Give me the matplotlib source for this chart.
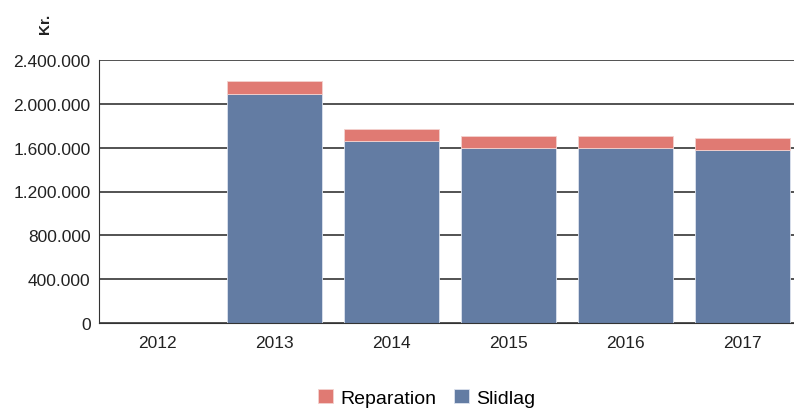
import matplotlib.pyplot as plt
import numpy as np

plt.rcParams['font.family'] = ['Liberation Sans', 'DejaVu Sans']

years = ["2012", "2013", "2014", "2015", "2016", "2017"]
slidlag = [0, 2090000, 1664000, 1597000, 1597000, 1582000]
reparation = [0, 120000, 104000, 110000, 110000, 107000]
yticks = [0, 400000, 800000, 1200000, 1600000, 2000000, 2400000]
ytick_labels = ["0", "400.000", "800.000", "1.200.000", "1.600.000", "2.000.000", "2.400.000"]

blue = "#637ca3"
red = "#e07a73"

fig = plt.figure(figsize=(7.94, 4.10), dpi=100)
ax = fig.add_axes([99 / 794, 1 - 324 / 410, 695 / 794, 263 / 410])

x = np.arange(len(years))
ax.bar(x, slidlag, width=0.82, color=blue, edgecolor="#dde3ee", linewidth=0.6, zorder=3, label="Slidlag")
ax.bar(x, reparation, width=0.82, bottom=slidlag, color=red, edgecolor="#f3d2cf", linewidth=0.6, zorder=3, label="Reparation")

ax.set_xlim(-0.5, 5.44)
ax.set_ylim(0, 2400000)
ax.set_yticks(yticks)
ax.set_yticklabels(ytick_labels, fontsize=12.5, color="#222222")
ax.set_xticks(x)
ax.set_xticklabels(years, fontsize=12.5, color="#222222")
ax.tick_params(axis="y", length=0, pad=6)
ax.tick_params(axis="x", length=0, pad=9)
ax.yaxis.grid(True, color="#444444", linewidth=1.3, zorder=1)

for s in ["top", "right"]:
    ax.spines[s].set_visible(False)
ax.spines["left"].set_color("#333333")
ax.spines["bottom"].set_color("#333333")
ax.spines["left"].set_zorder(4)
ax.spines["bottom"].set_zorder(4)

fig.text(45 / 794, 1 - 24 / 410, "Kr.", rotation=90, fontsize=11, fontweight="bold",
         ha="center", va="center", color="#222222")

handles, labels = ax.get_legend_handles_labels()
fig.legend(handles[::-1], labels[::-1], loc="center", bbox_to_anchor=(427 / 794, 1 - 399 / 410),
           ncol=2, frameon=False, fontsize=14, handlelength=0.75, handleheight=0.75,
           handletextpad=0.4, columnspacing=0.9)

fig.savefig("out.png", dpi=100)
